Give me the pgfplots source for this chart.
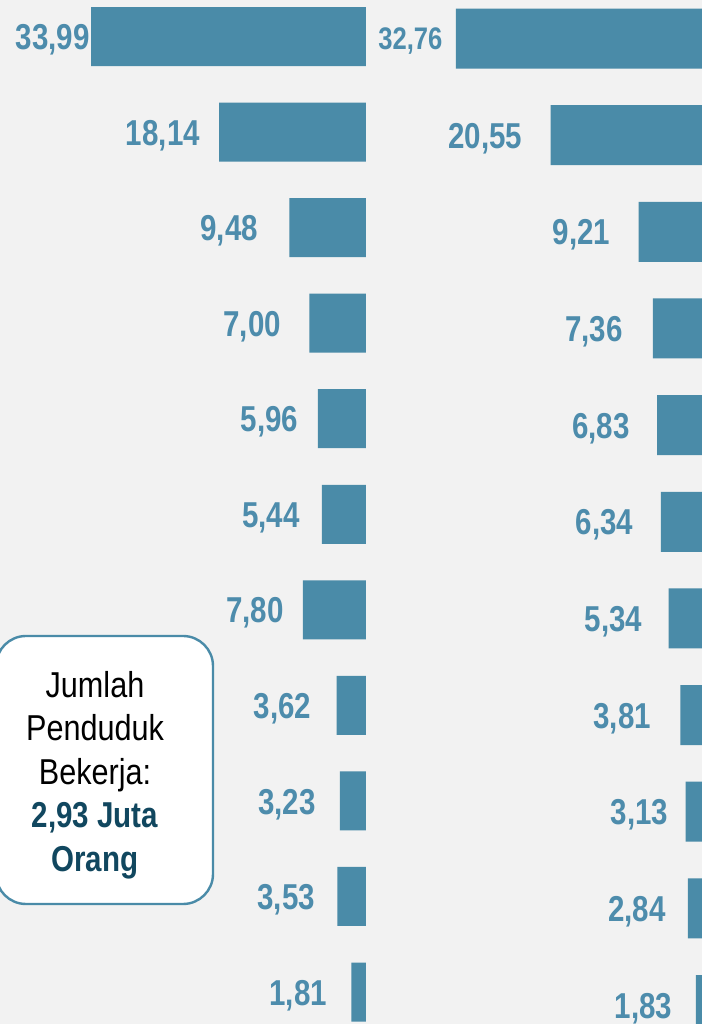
\documentclass[border=0pt]{standalone}
\usepackage{fontspec}
\setmainfont{Liberation Sans}
\newfontfamily\narrowb{Liberation Sans}[FakeStretch=0.82]
\newfontfamily\narrowr{Liberation Sans}[FakeStretch=0.85]
\usepackage{pgfplots}
\usepackage{pgfplotstable}
\pgfplotsset{compat=1.18}

\definecolor{bg}{HTML}{F2F2F2}
\definecolor{barblue}{HTML}{4A8BA8}
\definecolor{lblblue}{HTML}{4D8CAC}
\definecolor{darkblue}{HTML}{11475F}

% value, label text, gap (px) between label and bar end, label size (pt)
\pgfplotstableread{
i v lab gap fs
0 33.99 33,99 1 18
1 18.14 18,14 19 18
2 9.48 9,48 31 18
3 7.00 7,00 28 18
4 5.96 5,96 19 18
5 5.44 5,44 22 18
6 7.80 7,80 19 18
7 3.62 3,62 25 18
8 3.23 3,23 24 18
9 3.53 3,53 22 18
10 1.81 1,81 24 18
}\lefttab

\pgfplotstableread{
i v lab gap fs
0 32.76 32,76 13 15.6
1 20.55 20,55 28 18
2 9.21 9,21 28 18
3 7.36 7,36 30 18
4 6.83 6,83 27 18
5 6.34 6,34 27 18
6 5.34 5,34 26 18
7 3.81 3,81 29 18
8 3.13 3,13 17 18
9 2.84 2,84 22 18
10 1.83 1,83 23 18
}\righttab

\pgfplotsset{
  hbars/.style={
    scale only axis, hide axis, clip=false,
    x dir=reverse, y dir=reverse,
    xmin=0, ymin=0, ymax=10,
    enlargelimits=false,
    xbar, bar shift=0pt,
    nodes near coords, point meta=explicit symbolic,
    nodes near coords align={left},
    visualization depends on={\thisrow{gap} \as \gap},
    visualization depends on={\thisrow{fs} \as \fs},
    every node near coord/.append style={anchor=base east, xshift={-0.5pt*\gap}, yshift={-0.366pt*\fs},
      font=\narrowb\bfseries\fontsize{\fs}{21}\selectfont, text=lblblue, inner sep=0pt},
  },
}

\begin{document}
\begin{tikzpicture}
\fill[bg] (0,0) rectangle (351pt,512pt);
\useasboundingbox (0,0) rectangle (351pt,512pt);

% left group
\begin{axis}[hbars,
  at={(0pt,493.75pt)}, anchor=north west,
  width=183pt, height=477.75pt, xmax=45.24,
  bar width=29.5pt]
\addplot[fill=barblue, draw=none] table[x=v, y=i, meta=lab] \lefttab;
\end{axis}

% right group
\begin{axis}[hbars,
  at={(190pt,492.75pt)}, anchor=north west,
  width=165pt, height=483.25pt, xmax=42.53,
  bar width=30pt]
\addplot[fill=barblue, draw=none] table[x=v, y=i, meta=lab] \righttab;
\end{axis}

% info box
\draw[barblue, line width=1.2pt, fill=white, rounded corners=15pt]
  (-2pt,194pt) rectangle (106.5pt,60pt);
\node[align=center, inner sep=0pt, font=\fontsize{18}{21.75}\selectfont]
  at (47.5pt,124.5pt) {{\narrowr Jumlah}\\{\narrowr Penduduk}\\{\narrowr Bekerja:}\\
  {\narrowb\bfseries\color{darkblue}2,93 Juta}\\{\narrowb\bfseries\color{darkblue}Orang}};
\end{tikzpicture}
\end{document}
